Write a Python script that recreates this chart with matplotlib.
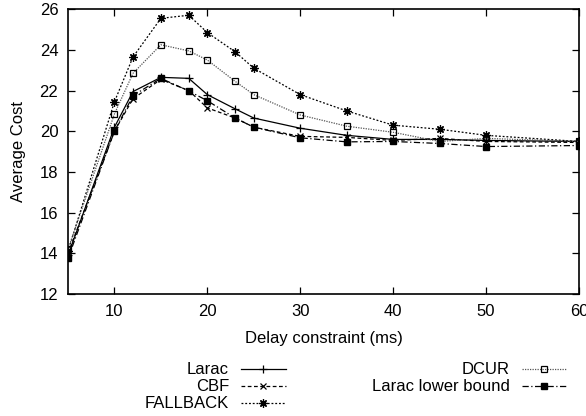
import matplotlib
matplotlib.use("Agg")
import matplotlib.pyplot as plt

plt.rcParams['font.family'] = ['Liberation Sans', 'DejaVu Sans']
plt.rcParams['font.size'] = 12

delay = [5, 10, 12, 15, 18, 20, 23, 25, 30, 35, 40, 45, 50, 60]

larac = [13.9, 20.2, 21.95, 22.65, 22.6, 21.8, 21.1, 20.65, 20.15, 19.8, 19.6, 19.6, 19.55, 19.5]
cbf = [14.0, 20.0, 21.6, 22.55, 22.0, 21.15, 20.65, 20.2, 19.75, 19.7, 19.55, 19.65, 19.5, 19.45]
fallback = [14.1, 21.45, 23.65, 25.55, 25.7, 24.85, 23.9, 23.1, 21.8, 21.0, 20.3, 20.1, 19.8, 19.5]
dcur = [14.2, 20.85, 22.85, 24.25, 23.95, 23.5, 22.45, 21.8, 20.8, 20.25, 19.95, 19.5, 19.65, 19.5]
lower = [13.75, 20.0, 21.75, 22.6, 21.98, 21.5, 20.65, 20.2, 19.68, 19.48, 19.5, 19.4, 19.25, 19.3]

fig = plt.figure(figsize=(5.86, 4.16), dpi=100)
ax = fig.add_axes([0.116, 0.293, 0.872, 0.685])

ax.plot(delay, larac, color='black', linestyle='-', lw=0.9, marker='+', ms=6, mew=0.9, label='Larac')
ax.plot(delay, cbf, color='black', linestyle=(0, (3, 2)), lw=0.9, marker='x', ms=4.5, mew=0.9, label='CBF')
ax.plot(delay, fallback, color='black', linestyle=(0, (1.5, 1.5)), lw=0.9, marker=(8, 2, 0), ms=6, mew=0.9, label='FALLBACK')
ax.plot(delay, dcur, color='#555555', linestyle=(0, (1, 1)), lw=0.9, marker='s', ms=5, mew=0.9,
        mfc='none', mec='black', label='DCUR')
ax.plot(delay, lower, color='black', linestyle=(0, (5, 2, 1, 2)), lw=0.9, marker='s', ms=5, label='Larac lower bound')

ax.set_xlim(5, 60)
ax.set_ylim(12, 26)
ax.set_xticks([10, 20, 30, 40, 50, 60])
ax.set_yticks(range(12, 27, 2))
ax.tick_params(direction='in', top=True, right=True, length=5, width=0.9, pad=7)
for s in ax.spines.values():
    s.set_linewidth(1.2)

ax.set_xlabel('Delay constraint (ms)', labelpad=9)
ax.set_ylabel('Average Cost', labelpad=10)

fig.legend(loc='center', bbox_to_anchor=(0.607, 0.07), ncol=2, frameon=False,
           markerfirst=False, handlelength=2.7, columnspacing=5.2, labelspacing=0.12,
           handletextpad=0.7, borderpad=0)

fig.savefig('out.png', dpi=100)
